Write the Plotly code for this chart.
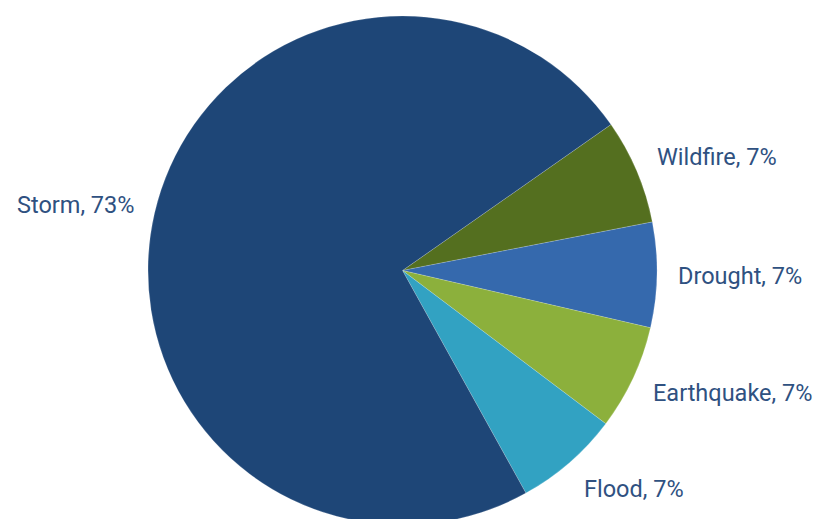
import math
import plotly.graph_objects as go

categories = ["Wildfire", "Drought", "Earthquake", "Flood", "Storm"]
values = [1, 1, 1, 1, 11]
colors = ["#546f1f", "#3569ad", "#8cb03c", "#32a2c2", "#1e4677"]

ROTATION = 55  # degrees clockwise from 12 o'clock where the first slice starts
W, H = 817, 525
ML, MR, MT, MB = 0, 12, 16, 0
plot_w = W - ML - MR
plot_h = H - MT - MB
radius = min(plot_w, plot_h) / 2

fig = go.Figure(go.Pie(
    labels=categories,
    values=values,
    sort=False,
    direction="clockwise",
    rotation=ROTATION,
    marker=dict(colors=colors, line=dict(color="rgba(255,255,255,0.35)", width=0.5)),
    textinfo="none",
    showlegend=False,
    automargin=False,
    hoverinfo="label+percent",
))

# outside labels placed around the pie from each slice's mid-angle
total = sum(values)
start = 90 - ROTATION  # standard-angle (deg, ccw from +x) of first slice start
annotations = []
acc = 0
for cat, v in zip(categories, values):
    mid = start - (acc + v / 2) / total * 360
    acc += v
    th = math.radians(mid)
    c, s = math.cos(th), math.sin(th)
    px = 0.5 + 1.08 * c * radius / plot_w
    py = 0.5 + 1.14 * s * radius / plot_h
    pct = round(v / total * 100)
    annotations.append(dict(
        x=px, y=py, xref="paper", yref="paper",
        text=f"{cat}, {pct}%", showarrow=False,
        xanchor="left" if c > 0 else "right", yanchor="middle",
        borderpad=0,
        font=dict(family="Roboto", size=23.5, color="#2f5181"),
    ))

fig.update_layout(
    width=W, height=H,
    margin=dict(l=ML, r=MR, t=MT, b=MB),
    paper_bgcolor="white",
    plot_bgcolor="white",
    annotations=annotations,
)

fig.write_html(
    "out.html",
    config={"displayModeBar": False},
    post_script="document.body.style.margin='0';document.body.style.overflow='hidden';",
)
